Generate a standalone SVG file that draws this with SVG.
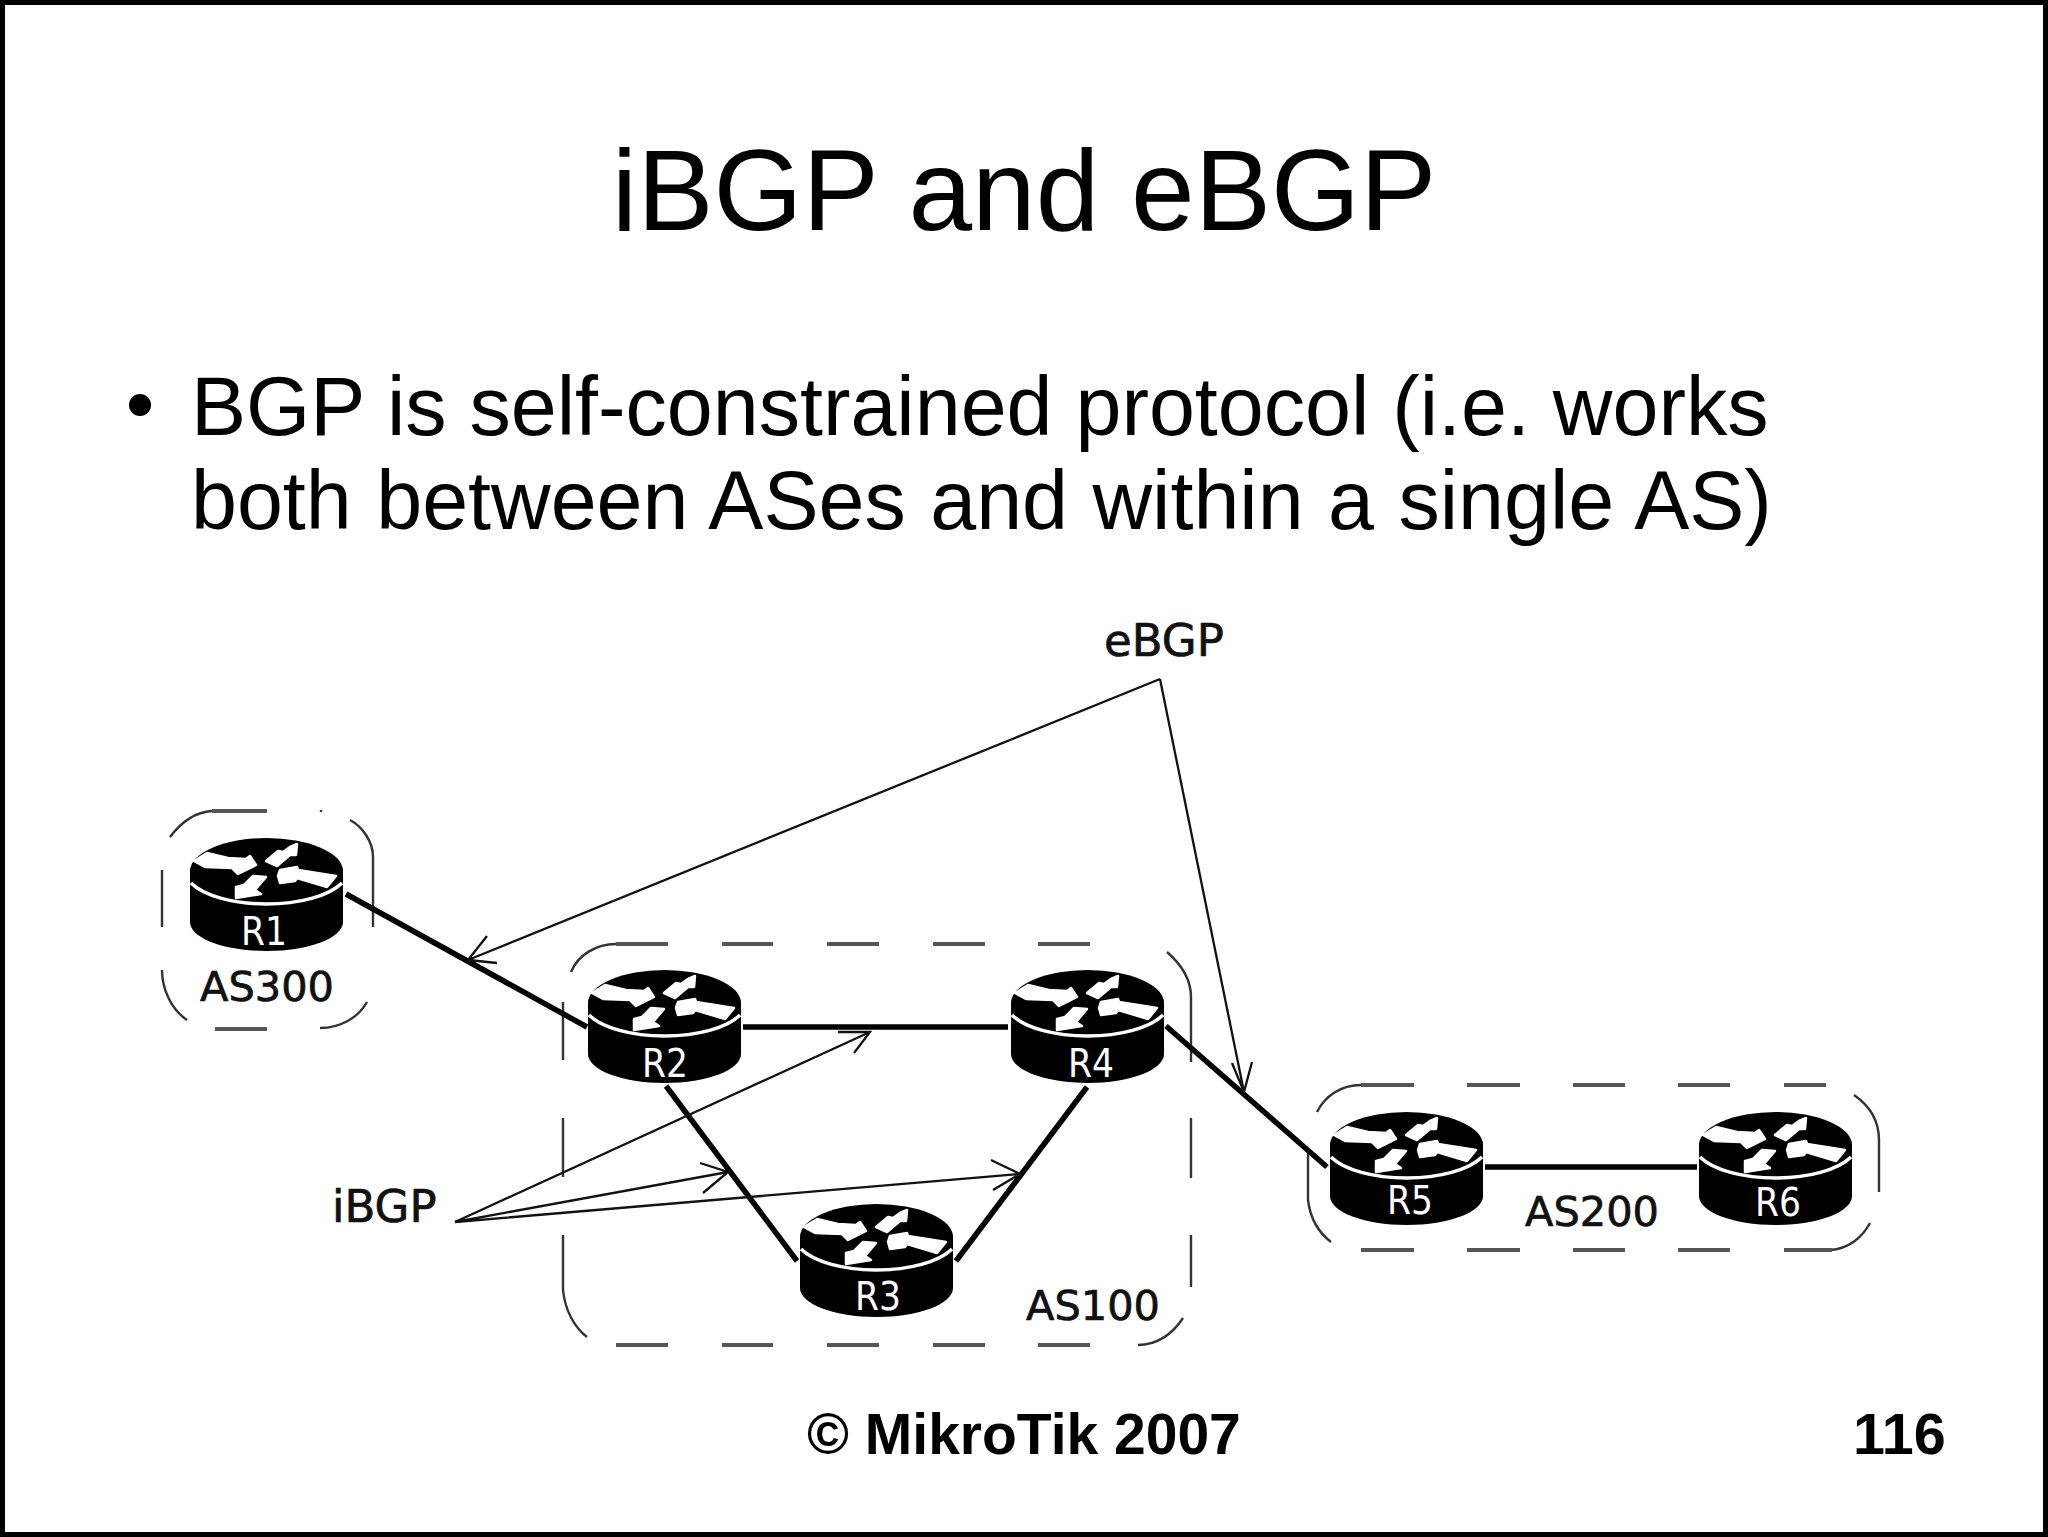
<svg xmlns="http://www.w3.org/2000/svg" xmlns:xlink="http://www.w3.org/1999/xlink" width="2048" height="1537" viewBox="0 0 2048 1537">
<style>
.s{font-family:"Liberation Sans",Arial,sans-serif;fill:#000}
.d{font-family:"DejaVu Sans",sans-serif;fill:#111;stroke:#111;stroke-width:.7}
.r{font-family:"DejaVu Sans",sans-serif;fill:#fff;font-size:39px;text-anchor:middle}
.link{stroke:#000;stroke-width:5.500;fill:none}
.thin{stroke:#111;stroke-width:2.300;fill:none}
.dash{stroke:#333;stroke-width:2.400;fill:none}
.dashh{stroke:#555;stroke-width:4;fill:none}
.arrow{fill:#fff;stroke:#fff;stroke-width:2.500;stroke-linejoin:round}
</style>
<defs>
<g id="router">
<path d="M0 33V84C0 100 34 113 76.500 113S153 100 153 84V33Z" fill="#000"/>
<ellipse cx="76.500" cy="33" rx="76.500" ry="33" fill="#000"/>
<path d="M1 45C14 58 44 66 76.500 66S139 58 152 45" fill="none" stroke="#fff" stroke-width="3.500"/>
<path class="arrow" d="M4 23L17 15L38 20L56 21L60 18L66 27L48 36L42 30L15 29Z"/>
<path class="arrow" d="M76 23L88 13L93 14L100 9L107 6L106 17L100 17L87 28Z"/>
<path class="arrow" d="M88 38L90 32L107 29L108 32L146 38L137 49L107 40L105 43L90 45Z"/>
<path class="arrow" d="M46 60L46 49L54 47L63 38L76 39L65 52L71 56Z"/>
</g>
</defs>
<rect width="2048" height="1537" fill="#fff"/>
<rect x="2.500" y="2.500" width="2043" height="1532" fill="none" stroke="#000" stroke-width="5"/>
<text class="s" x="1024" y="230" font-size="114.400" text-anchor="middle">iBGP and eBGP</text>
<circle cx="140" cy="405" r="11" fill="#000"/>
<text class="s" x="191" y="435" font-size="82.600">BGP is self-constrained protocol (i.e. works</text>
<text class="s" x="191" y="529" font-size="82.600" word-spacing="1.500">both between ASes and within a single AS)</text>
<text class="s" x="807" y="1454" font-size="57" font-weight="700">© MikroTik 2007</text>
<text class="s" x="1853" y="1454" font-size="57.500" font-weight="700">116</text>

<g id="as300">
<path class="dash" d="M170 837C182 821 196 812 212 811M321 810V812M350 820C363 827 373 842 373 857V927M162 870V927M162 970C162 990 172 1010 187 1020M320 1028C340 1028 358 1018 367 1002"/>
<path class="dashh" d="M212 811H267M215 1029H267"/>
<text class="d" x="200" y="1001" font-size="41.500">AS300</text>
</g>
<g id="as100">
<path class="dash" d="M571 972C578 955 596 944 616 944M1167 952C1182 965 1191 980 1191 997V1062M1191 1118V1178M1191 1235V1287M1183 1318C1172 1335 1156 1345 1138 1345M563 1002V1060M563 1118V1177M563 1235V1290C565 1310 574 1327 587 1337"/>
<path class="dashh" d="M616 944H668M722 944H773M827 944H879M933 944H985M1038 944H1090M616 1345H668M722 1345H773M827 1345H879M933 1345H985M1038 1345H1090"/>
<text class="d" x="1026" y="1320" font-size="41.500">AS100</text>
</g>
<g id="as200">
<path class="dash" d="M1317 1112C1325 1096 1341 1085 1361 1085M1854 1095C1870 1106 1879 1122 1879 1140V1192M1830 1250C1848 1249 1862 1238 1870 1223M1308 1153V1200C1310 1217 1318 1232 1331 1242"/>
<path class="dashh" d="M1361 1085H1414M1467 1085H1520M1573 1085H1625M1678 1085H1730M1784 1085H1826M1361 1250H1414M1467 1250H1520M1573 1250H1625M1678 1250H1730M1784 1250H1832"/>
<text class="d" x="1525" y="1226" font-size="41.500">AS200</text>
</g>

<g id="connectors">
<path class="link" d="M346 894L587 1027"/>
<path class="link" d="M743 1027H1008"/>
<path class="link" d="M666 1086L797 1261"/>
<path class="link" d="M1087 1087L956 1261"/>
<path class="link" d="M1166 1026L1327 1167"/>
<path class="link" d="M1485 1167H1697"/>
<path class="thin" d="M1160 679L468 960M487 936L468 960L497 963"/>
<path class="thin" d="M1160 679L1244 1092M1252 1062L1244 1092L1232 1063"/>
<path class="thin" d="M455 1222L870 1032M854 1053L870 1032L838 1032"/>
<path class="thin" d="M455 1222L728 1172M700 1163L728 1172L703 1193"/>
<path class="thin" d="M455 1222L1020 1174M991 1160L1020 1174L993 1190"/>
</g>

<g id="R1"><use xlink:href="#router" href="#router" x="190" y="838"/><text class="r" x="264" y="945" textLength="46" lengthAdjust="spacingAndGlyphs">R1</text></g>
<g id="R2"><use xlink:href="#router" href="#router" x="588" y="970"/><text class="r" x="665" y="1077" textLength="46" lengthAdjust="spacingAndGlyphs">R2</text></g>
<g id="R3"><use xlink:href="#router" href="#router" x="800" y="1204"/><text class="r" x="878" y="1310" textLength="46" lengthAdjust="spacingAndGlyphs">R3</text></g>
<g id="R4"><use xlink:href="#router" href="#router" x="1011" y="970"/><text class="r" x="1091" y="1077" textLength="46" lengthAdjust="spacingAndGlyphs">R4</text></g>
<g id="R5"><use xlink:href="#router" href="#router" x="1330" y="1112"/><text class="r" x="1410" y="1214" textLength="46" lengthAdjust="spacingAndGlyphs">R5</text></g>
<g id="R6"><use xlink:href="#router" href="#router" x="1699" y="1112"/><text class="r" x="1778" y="1216" textLength="46" lengthAdjust="spacingAndGlyphs">R6</text></g>

<text class="d" x="1104" y="656" font-size="45">eBGP</text>
<text class="d" x="332" y="1222" font-size="45">iBGP</text>
</svg>
